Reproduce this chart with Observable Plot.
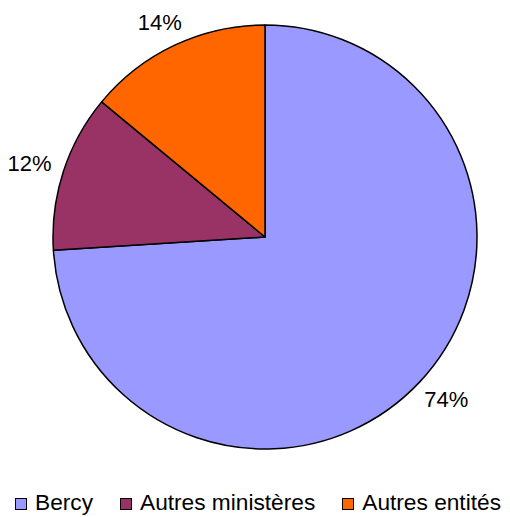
<!DOCTYPE html>
<html>
<head>
<meta charset="utf-8">
<script src="https://cdn.jsdelivr.net/npm/d3@7"></script>
<script src="https://cdn.jsdelivr.net/npm/@observablehq/plot@0.6"></script>
<style>
  html, body { margin: 0; padding: 0; background: #fff; }
  body { width: 510px; height: 517px; overflow: hidden; font-family: "Liberation Sans", Arial, sans-serif; }
  svg { display: block; }
  #legend { display: flex; align-items: center; height: 24px; line-height: 24px; font-size: 22.7px; color: #000; padding-left: 15px; white-space: nowrap; }
  .item { display: flex; align-items: center; margin-right: 27px; }
  .sw { width: 10px; height: 10px; border: 1px solid #000; margin-right: 8px; margin-top: 3px; }
</style>
</head>
<body>
<div id="chart"></div>
<script>
const categories = ["Bercy", "Autres ministères", "Autres entités"];
const shares = [74, 12, 14];
const shareLabels = ["74%", "12%", "14%"];
const sliceColors = ["#9999FF", "#993366", "#FF6600"];

const rows = categories.map((c, i) => ({category: c, share: shares[i], label: shareLabels[i]}));
const pie = d3.pie().sort(null).value(d => d.share).startAngle(0).endAngle(2 * Math.PI);
const arcs = pie(rows);
const labelRx = 1.17, labelRy = 1.12;
const labelRows = arcs.map(a => {
  const m = (a.startAngle + a.endAngle) / 2;
  return {x: labelRx * Math.sin(m), y: labelRy * Math.cos(m), label: a.data.label};
});
const color = d3.scaleOrdinal(categories, sliceColors);

const pieMark = (index, scales, values, dimensions) => {
  const cx = scales.x(0), cy = scales.y(0);
  const r = scales.x(1) - scales.x(0);
  const g = d3.create("svg:g").attr("transform", `translate(${cx},${cy})`);
  const arc = d3.arc().innerRadius(0).outerRadius(r);
  g.selectAll("path").data(arcs).join("path")
    .attr("d", arc)
    .attr("fill", d => color(d.data.category))
    .attr("stroke", "#000")
    .attr("stroke-width", 1.5)
    .attr("stroke-linejoin", "round");
  return g.node();
};

const chart = Plot.plot({
  width: 510,
  height: 490,
  marginLeft: 53,
  marginRight: 33,
  marginTop: 25,
  marginBottom: 41,
  x: {domain: [-1, 1], axis: null},
  y: {domain: [-1, 1], axis: null},
  style: {fontFamily: "Liberation Sans, Arial, sans-serif", background: "#fff"},
  marks: [
    pieMark,
    Plot.text(labelRows, {x: "x", y: "y", text: "label", fontSize: 22, fill: "#000"})
  ]
});
document.getElementById("chart").appendChild(chart);

const legend = d3.select("body").append("div").attr("id", "legend");
categories.forEach((c, i) => {
  const it = legend.append("div").attr("class", "item");
  it.append("div").attr("class", "sw").style("background", color(c));
  it.append("span").text(c);
});
</script>
</body>
</html>
